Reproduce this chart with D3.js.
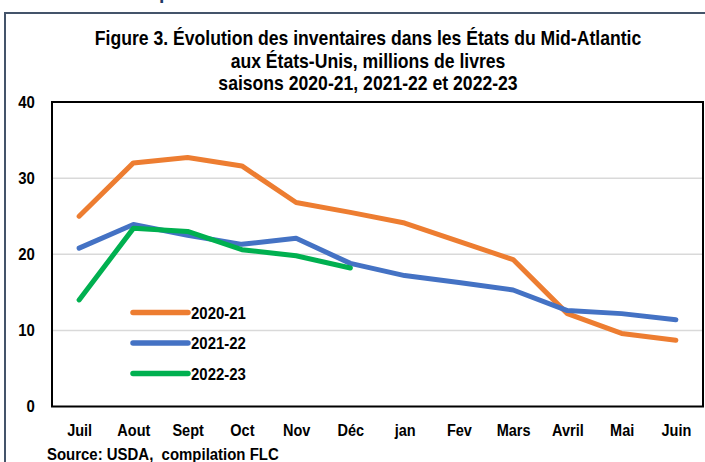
<!DOCTYPE html>
<html>
<head>
<meta charset="utf-8">
<script src="https://cdn.jsdelivr.net/npm/d3@7"></script>
<style>
  body { margin: 0; background: #fff; }
  svg { display: block; }
  text { font-family: "Liberation Sans", Arial, sans-serif; font-weight: bold; fill: #000; }
</style>
</head>
<body>
<svg width="705" height="462"></svg>
<script>
var months = ["Juil", "Aout", "Sept", "Oct", "Nov", "Déc", "jan", "Fev", "Mars", "Avril", "Mai", "Juin"];
var seasons = ["2020-21", "2021-22", "2022-23"];
var values2020 = [25.0, 32.0, 32.7, 31.6, 26.8, 25.5, 24.1, 21.7, 19.3, 12.2, 9.6, 8.7];
var values2021 = [20.8, 23.9, 22.5, 21.3, 22.1, 18.8, 17.2, 16.3, 15.3, 12.6, 12.2, 11.4];
var values2022 = [14.0, 23.4, 23.0, 20.6, 19.8, 18.2];
var yTicks = [0, 10, 20, 30, 40];
var titleLines = [
    "Figure 3. Évolution des inventaires dans les États du Mid-Atlantic",
    "aux États-Unis, millions de livres",
    "saisons 2020-21, 2021-22 et 2022-23"
];
var colors = ["#ED7D31", "#4472C4", "#00B050"];

var series = [values2020, values2021, values2022];

// the original uses a narrow font, squeeze the glyphs horizontally
var squeeze = 0.88;

var svg = d3.select("svg");

var plot = { left: 52, right: 703, top: 102, bottom: 406.5 };

// outer frame (left + top)
svg.append("path")
    .attr("d", "M5,462 L5,13 L705,13")
    .attr("fill", "none")
    .attr("stroke", "#44546A")
    .attr("stroke-width", 2);

// bit of the heading above, cut by the crop
svg.append("text")
    .attr("transform", "translate(159,-2) scale(" + squeeze + ",1)")
    .style("font-size", "22px")
    .style("fill", "#1F3864")
    .text("p");

var x = d3.scalePoint()
    .domain(months)
    .range([plot.left, plot.right])
    .padding(0.5);

var y = d3.scaleLinear()
    .domain([0, 40])
    .range([plot.bottom, plot.top]);

// title
svg.append("g")
    .selectAll("text")
    .data(titleLines)
    .enter().append("text")
    .attr("transform", function(d, i) {
        return "translate(368," + (45 + i * 22.5) + ") scale(" + squeeze + ",1)";
    })
    .attr("text-anchor", "middle")
    .style("font-size", "20px")
    .text(function(d) { return d; });

// gridlines
svg.append("g")
    .selectAll("line")
    .data(yTicks.slice(1, 4))
    .enter().append("line")
    .attr("x1", plot.left)
    .attr("x2", plot.right)
    .attr("y1", function(d) { return y(d); })
    .attr("y2", function(d) { return y(d); })
    .attr("stroke", "#D9D9D9")
    .attr("stroke-width", 1.5);

// y axis labels
var yAxis = d3.axisLeft(y).tickValues(yTicks).tickSize(0).tickPadding(19.5);
var yg = svg.append("g")
    .attr("transform", "translate(" + plot.left + ",0)")
    .call(yAxis);
yg.select(".domain").remove();
yg.selectAll("text")
    .attr("transform", "scale(" + squeeze + ",1)")
    .style("font-size", "17px")
    .style("font-family", null);

// x axis labels
var xAxis = d3.axisBottom(x).tickSize(0).tickPadding(17.5);
var xg = svg.append("g")
    .attr("transform", "translate(0," + plot.bottom + ")")
    .call(xAxis);
xg.select(".domain").remove();
xg.selectAll("text")
    .attr("transform", "scale(" + squeeze + ",1)")
    .style("font-size", "16.5px")
    .style("font-family", null);

// plot border
svg.append("rect")
    .attr("x", plot.left)
    .attr("y", plot.top)
    .attr("width", plot.right - plot.left)
    .attr("height", plot.bottom - plot.top)
    .attr("fill", "none")
    .attr("stroke", "#000")
    .attr("stroke-width", 2);

// lines
var line = d3.line()
    .x(function(d, i) { return x(months[i]); })
    .y(function(d) { return y(d); });

svg.append("g")
    .selectAll("path")
    .data(series)
    .enter().append("path")
    .attr("d", line)
    .attr("fill", "none")
    .attr("stroke", function(d, i) { return colors[i]; })
    .attr("stroke-width", 5)
    .attr("stroke-linecap", "round")
    .attr("stroke-linejoin", "round");

// legend
var legend = svg.append("g")
    .selectAll("g")
    .data(seasons)
    .enter().append("g")
    .attr("transform", function(d, i) { return "translate(133," + (312.5 + i * 30.5) + ")"; });

legend.append("line")
    .attr("x1", 0)
    .attr("x2", 55)
    .attr("stroke", function(d, i) { return colors[i]; })
    .attr("stroke-width", 5.5)
    .attr("stroke-linecap", "round");

legend.append("text")
    .attr("transform", "translate(58,0) scale(" + squeeze + ",1)")
    .attr("dy", "0.36em")
    .style("font-size", "17px")
    .text(function(d) { return d; });

// source
svg.append("text")
    .attr("transform", "translate(47,460) scale(" + squeeze + ",1)")
    .attr("xml:space", "preserve")
    .style("font-size", "17px")
    .text("Source: USDA,  compilation FLC");
</script>
</body>
</html>
